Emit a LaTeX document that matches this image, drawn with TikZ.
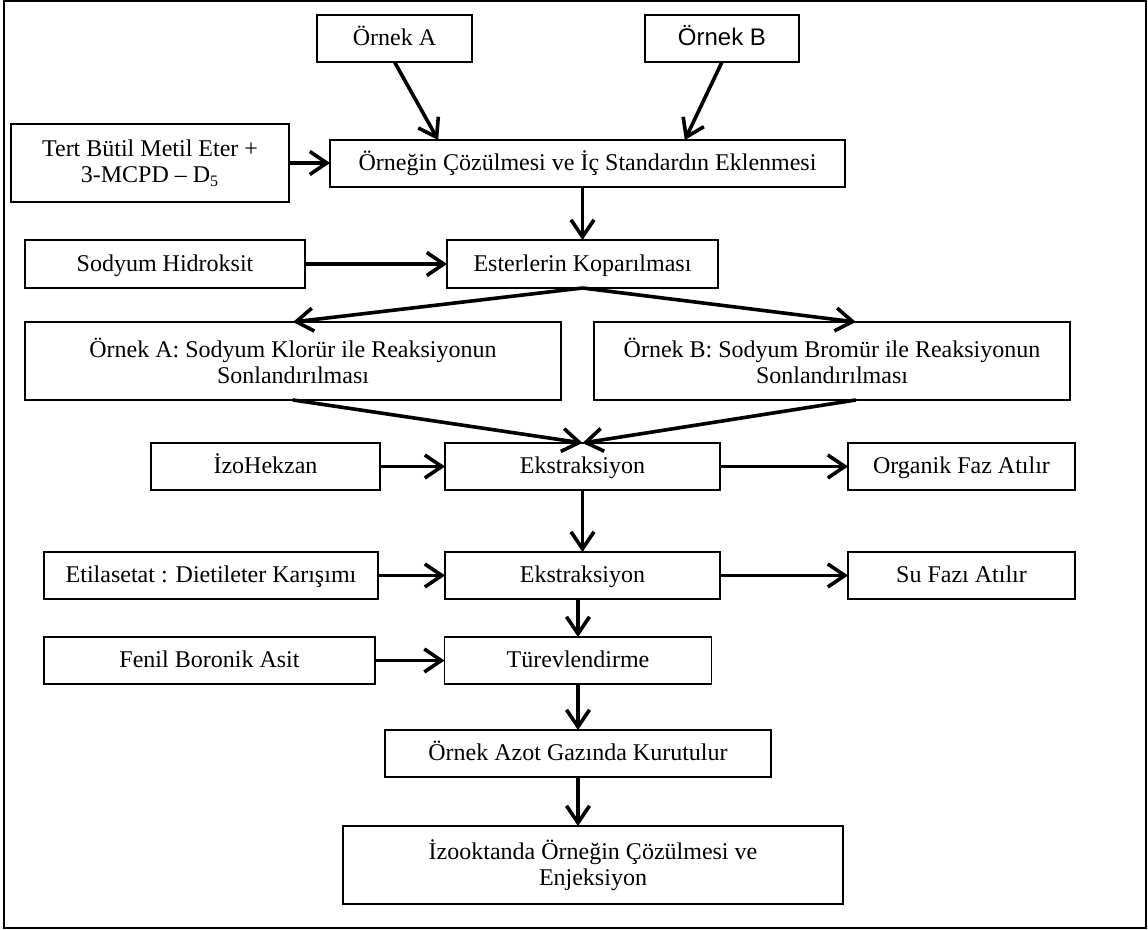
\documentclass[tikz,border=0pt]{standalone}
\usepackage{fontspec}
\setmainfont{Liberation Serif}
\newfontfamily\arialfont{Liberation Sans}
\usetikzlibrary{arrows.meta,calc}

\tikzset{
  box/.style={draw=black, line width=0.7pt, fill=white, inner sep=0pt, outer sep=0pt,
              align=center, font=\fontsize{12}{13}\selectfont},
  oneline/.style={text height=9pt, text depth=1.5pt},
  arr/.style={line width=1.8pt, -{Straight Barb[length=8.5pt,width=11.5pt]}},
  frame/.style={draw=black, line width=1pt}
}

\begin{document}
\begin{tikzpicture}[x=0.5pt, y=-0.5pt]
  \useasboundingbox (0,0) rectangle (1148,930);
  \draw[frame] (4,1) rectangle (1146,928);

  % inputs at the top
  \node[box, oneline, minimum width=77.5pt, minimum height=23.5pt] (oa) at (394.5,38.5) {Örnek A};
  \node[box, oneline, minimum width=77pt, minimum height=23.5pt, font=\arialfont\fontsize{12}{13}\selectfont] (ob) at (722,38.5) {Örnek B};

  % dissolving and internal standard
  \node[box, minimum width=139pt, minimum height=39pt] (tert) at (150,163) {Tert Bütil Metil Eter +\\3-MCPD -- D\textsubscript{5}};
  \node[box, oneline, minimum width=257.5pt, minimum height=23.5pt] (coz) at (587.5,163.5) {Örneğin Çözülmesi ve İç Standardın Eklenmesi};

  % ester cleavage
  \node[box, oneline, minimum width=140pt, minimum height=24pt] (hid) at (165,264) {Sodyum Hidroksit};
  \node[box, oneline, minimum width=135.5pt, minimum height=24pt] (est) at (582.5,264) {Esterlerin Koparılması};

  % stopping the reaction
  \node[box, minimum width=268pt, minimum height=39pt] (kl) at (293,361) {Örnek A: Sodyum Klorür ile Reaksiyonun\\Sonlandırılması};
  \node[box, minimum width=238pt, minimum height=39pt] (br) at (832,361) {Örnek B: Sodyum Bromür ile Reaksiyonun\\Sonlandırılması};

  % first extraction
  \node[box, oneline, minimum width=114.5pt, minimum height=23.5pt] (izo) at (265.5,466.5) {İzoHekzan};
  \node[box, oneline, minimum width=137.5pt, minimum height=23.5pt] (ek1) at (582.5,466.5) {Ekstraksiyon};
  \node[box, oneline, minimum width=113.5pt, minimum height=23.5pt] (org) at (961.5,466.5) {Organik Faz Atılır};

  % second extraction
  \node[box, oneline, minimum width=167pt, minimum height=23.5pt] (eti) at (211,575.5) {Etilasetat : Dietileter Karışımı};
  \node[box, oneline, minimum width=137.5pt, minimum height=23.5pt] (ek2) at (582.5,575.5) {Ekstraksiyon};
  \node[box, oneline, minimum width=113.5pt, minimum height=23.5pt] (su) at (961.5,575.5) {Su Fazı Atılır};

  % derivatisation and injection
  \node[box, oneline, minimum width=165.5pt, minimum height=23.5pt] (fen) at (209.5,660.5) {Fenil Boronik Asit};
  \node[box, oneline, minimum width=133.5pt, minimum height=23.5pt] (tur) at (578,660.5) {Türevlendirme};
  \node[box, oneline, minimum width=193pt, minimum height=23.5pt] (azot) at (578,753.5) {Örnek Azot Gazında Kurutulur};
  \node[box, minimum width=250pt, minimum height=39pt] (izook) at (593,865) {İzooktanda Örneğin Çözülmesi ve\\Enjeksiyon};

  % connectors
  \draw[arr] (oa.south) -- ($(coz.north west)!0.21!(coz.north east)$);
  \draw[arr] (ob.south) -- ($(coz.north west)!0.689!(coz.north east)$);
  \draw[arr] (tert.east) -- (tert.east -| coz.west);
  \draw[arr] (coz.south -| est) -- (est.north);
  \draw[arr] (hid.east) -- (est.west);
  \draw[arr] (est.south) -- (kl.north);
  \draw[arr] (est.south) -- ($(br.north west)!0.55!(br.north east)$);
  \draw[arr] (kl.south) -- (ek1.north);
  \draw[arr] ($(br.south west)!0.55!(br.south east)$) -- (ek1.north);
  \draw[arr] (izo.east) -- (ek1.west);
  \draw[arr] (ek1.east) -- (org.west);
  \draw[arr] (ek1.south) -- (ek2.north);
  \draw[arr] (eti.east) -- (ek2.west);
  \draw[arr] (ek2.east) -- (su.west);
  \draw[arr] (ek2.south -| tur) -- (tur.north);
  \draw[arr] (fen.east) -- (tur.west);
  \draw[arr] (tur.south) -- (azot.north);
  \draw[arr] (azot.south) -- (azot.south |- izook.north);
\end{tikzpicture}
\end{document}
